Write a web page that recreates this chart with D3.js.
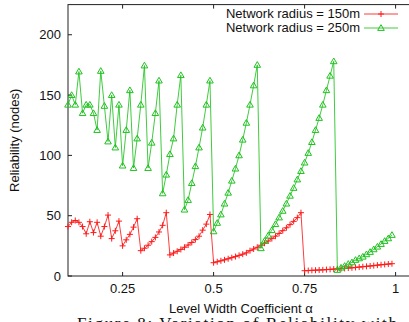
<!doctype html>
<html>
  <head>
    <meta charset="UTF-8">
    <title>Reliability vs level width</title>
    <script src="https://cdn.jsdelivr.net/npm/d3@7"></script>
    <style>
      body { margin: 0; background: #fff; }
      svg text { font-family: "Liberation Sans", Arial, Helvetica, sans-serif; fill: #111; }
      .caption { font-family: "Liberation Serif", "Times New Roman", serif; }
    </style>
  </head>
  <body>
    <svg id="chart" width="409" height="322"></svg>
    <script>
      // level width coefficient alpha (x samples)
      const alpha = [0.10, 0.11, 0.12, 0.13, 0.14, 0.15, 0.16, 0.17, 0.18, 0.19,
        0.20, 0.21, 0.22, 0.23, 0.24, 0.25, 0.26, 0.27, 0.28, 0.29,
        0.30, 0.31, 0.32, 0.33, 0.34, 0.35, 0.36, 0.37, 0.38, 0.39,
        0.40, 0.41, 0.42, 0.43, 0.44, 0.45, 0.46, 0.47, 0.48, 0.49,
        0.50, 0.51, 0.52, 0.53, 0.54, 0.55, 0.56, 0.57, 0.58, 0.59,
        0.60, 0.61, 0.62, 0.63, 0.64, 0.65, 0.66, 0.67, 0.68, 0.69,
        0.70, 0.71, 0.72, 0.73, 0.74, 0.75, 0.76, 0.77, 0.78, 0.79,
        0.80, 0.81, 0.82, 0.83, 0.84, 0.85, 0.86, 0.87, 0.88, 0.89,
        0.90, 0.91, 0.92, 0.93, 0.94, 0.95, 0.96, 0.97, 0.98, 0.99];

      // Network radius = 150m
      const r150 = [41, 44.5, 46, 44.5, 41, 35, 45, 36, 44.5, 33,
        41, 50.5, 31, 37.5, 45.5, 25, 30, 34.5, 40.5, 47.5,
        21, 23, 25.5, 28.5, 32, 36.5, 42, 52.5, 17.5, 19,
        20.5, 22, 23.8, 25.7, 27.8, 30.2, 33, 38, 43, 51,
        11, 11.8, 12.6, 13.4, 14.3, 15.2, 16.1, 17.1, 18.1, 19.2,
        21, 22.4, 23.8, 25.5, 27.2, 29, 31, 33, 35.3, 37.6,
        40, 42.6, 45.3, 48.4, 52.5, 4.4, 4.5, 4.7, 4.8, 5,
        5.1, 5.3, 5.5, 5.7, 5.9, 6.1, 6.3, 6.6, 6.8, 7.1,
        7.4, 7.7, 8, 8.3, 8.6, 9, 9.3, 9.6, 9.9, 10.2];

      // Network radius = 250m
      const r250 = [142, 150, 142, 169.5, 135, 142, 142, 135, 121, 170,
        141, 111.5, 150, 106.5, 142, 91.5, 121, 154, 89.5, 114,
        142, 174.5, 89.5, 110.5, 135, 162, 68.5, 84, 101, 114,
        142, 166.5, 55, 63, 77, 91, 106.5, 123, 142, 162,
        37, 44, 51, 60, 69, 79, 89, 100, 113, 127,
        142, 158, 175, 23, 29, 33.5, 38, 43, 48.5, 54,
        60, 66.5, 73, 80, 87, 94, 102, 111, 121, 131,
        142, 154, 166, 178, 5, 6.9, 8.3, 10, 11.3, 13.3,
        14.6, 16, 18, 19.9, 22.1, 24.3, 26.5, 29, 31.2, 34];

      const xTicks = [0.25, 0.5, 0.75, 1];
      const yTicks = [0, 50, 100, 150, 200];
      const seriesNames = ["Network radius = 150m", "Network radius = 250m"];

      const svg = d3.select("#chart");
      const plotL = 68, plotR = 413.8, plotT = 4.6, plotB = 276;

      const x = d3.scaleLinear().domain([0.1, 1.05]).range([plotL, plotR]);
      const y = d3.scaleLinear().domain([0, 225]).range([plotB, plotT]);

      const red = "#ff1a1a", green = "#1fc21f";

      // frame
      svg.append("rect")
        .attr("x", plotL).attr("y", plotT)
        .attr("width", plotR - plotL).attr("height", plotB - plotT)
        .attr("fill", "none").attr("stroke", "#222").attr("stroke-width", 1);

      // inward ticks, mirrored on the opposite side
      const fmtX = d => d === 1 ? "1" : String(d);
      const ax = svg.append("g").attr("stroke", "#222").attr("stroke-width", 1);
      xTicks.forEach(t => {
        ax.append("line").attr("x1", x(t)).attr("x2", x(t)).attr("y1", plotB).attr("y2", plotB - 4);
        ax.append("line").attr("x1", x(t)).attr("x2", x(t)).attr("y1", plotT).attr("y2", plotT + 4);
      });
      yTicks.forEach(t => {
        ax.append("line").attr("x1", plotL).attr("x2", plotL + 4).attr("y1", y(t)).attr("y2", y(t));
        ax.append("line").attr("x1", plotR).attr("x2", plotR - 4).attr("y1", y(t)).attr("y2", y(t));
      });

      svg.append("g").selectAll("text").data(xTicks).join("text")
        .attr("x", d => x(d)).attr("y", 293)
        .attr("text-anchor", "middle").attr("font-size", 13)
        .text(fmtX);

      svg.append("g").selectAll("text").data(yTicks).join("text")
        .attr("x", 61).attr("y", d => y(d)).attr("dy", "0.36em")
        .attr("text-anchor", "end").attr("font-size", 13)
        .text(d => d);

      svg.append("text")
        .attr("transform", `translate(19,${(plotT + plotB) / 2}) rotate(-90)`)
        .attr("text-anchor", "middle").attr("font-size", 13)
        .text("Reliability (nodes)");

      svg.append("text")
        .attr("x", (plotL + plotR) / 2).attr("y", 313)
        .attr("text-anchor", "middle").attr("font-size", 13)
        .text("Level Width Coefficient α");

      // caption cut off at the bottom edge
      svg.append("text").attr("class", "caption")
        .attr("x", 77).attr("y", 329)
        .attr("font-size", 17)
        .attr("textLength", 320).attr("lengthAdjust", "spacing")
        .text("Figure 8:  Variation of Reliability with");

      const line = d3.line().x((d, i) => x(alpha[i])).y(d => y(d));
      const plus = "M-3,0H3M0,-3V3";
      const tri = "M0,-3.3L3.3,2.4H-3.3Z";

      function drawSeries(values, color, marker) {
        const g = svg.append("g");
        g.append("path").datum(values)
          .attr("d", line).attr("fill", "none")
          .attr("stroke", color).attr("stroke-width", 1).attr("stroke-opacity", 0.85);
        g.selectAll("path.m").data(values).join("path").attr("class", "m")
          .attr("transform", (d, i) => `translate(${x(alpha[i])},${y(d)})`)
          .attr("d", marker).attr("fill", "none")
          .attr("stroke", color).attr("stroke-width", 1);
      }

      drawSeries(r150, red, plus);
      drawSeries(r250, green, tri);

      // legend
      const legend = [
        { name: seriesNames[0], color: red, marker: plus, y: 18 },
        { name: seriesNames[1], color: green, marker: tri, y: 32 }
      ];
      const lg = svg.append("g");
      legend.forEach(l => {
        lg.append("text").attr("x", 360).attr("y", l.y)
          .attr("text-anchor", "end").attr("font-size", 13).text(l.name);
        lg.append("line").attr("x1", 364).attr("x2", 398)
          .attr("y1", l.y - 4).attr("y2", l.y - 4)
          .attr("stroke", l.color).attr("stroke-width", 1).attr("stroke-opacity", 0.85);
        lg.append("path").attr("transform", `translate(381,${l.y - 4})`)
          .attr("d", l.marker).attr("fill", "none").attr("stroke", l.color);
      });
    </script>
  </body>
</html>
